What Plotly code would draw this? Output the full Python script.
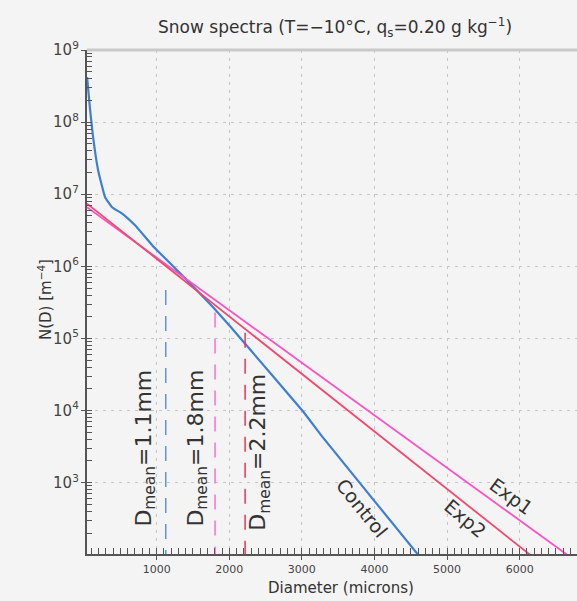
import math
import plotly.graph_objects as go

# ---- data ----
diam_control = [41, 83, 124, 193, 289, 386, 537, 702, 950, 1185, 1460, 1777, 2011, 2287, 3017, 3292, 4601, 4700]
n_control = [4.22e8, 1.47e8, 6.19e7, 2.15e7, 9.09e6, 6.6e6, 5.27e6, 3.71e6, 1.9e6, 1.1e6,
             5.8e5, 2.7e5, 1.47e5, 7.0e4, 9.7e3, 4.2e3, 100, 75]

diam_exp1 = [40, 1000, 2000, 3000, 4000, 5000, 6000, 6700]
n_exp1 = [6.6e6, 1.32e6, 2.47e5, 4.6e4, 8.6e3, 1.6e3, 300, 92.5]

diam_exp2 = [40, 1000, 2000, 3000, 4000, 5000, 6000, 6200]
n_exp2 = [7.4e6, 1.27e6, 2.02e5, 3.22e4, 5.13e3, 817, 130, 90]

dmean_diam = [1125, 1804, 2218]          # microns
dmean_top = [4.68e5, 2.29e5, 1.2e5]      # upper end of dashed markers
dmean_bottom = [100, 100, 100]
dmean_text = ["D<sub>mean</sub>=1.1mm", "D<sub>mean</sub>=1.8mm", "D<sub>mean</sub>=2.2mm"]
dmean_colors = ["#5c95d8", "#ff6ecb", "#e8345c"]

curve_names = ["Control", "Exp1", "Exp2"]
curve_colors = ["#3f7fcf", "#f754c4", "#ee4a72"]

FONT = "DejaVu Sans"
TXT = "#333333"

fig = go.Figure()

fig.add_trace(go.Scatter(x=diam_control, y=n_control, mode="lines", name=curve_names[0],
                         line=dict(color=curve_colors[0], width=2.2, shape="spline", smoothing=0.3)))
fig.add_trace(go.Scatter(x=diam_exp1, y=n_exp1, mode="lines", name=curve_names[1],
                         line=dict(color=curve_colors[1], width=1.8)))
fig.add_trace(go.Scatter(x=diam_exp2, y=n_exp2, mode="lines", name=curve_names[2],
                         line=dict(color=curve_colors[2], width=1.8)))

for d, top, bot, col in zip(dmean_diam, dmean_top, dmean_bottom, dmean_colors):
    fig.add_trace(go.Scatter(x=[d, d], y=[top, bot], mode="lines",
                             line=dict(color=col, width=1.5, dash="15px,11px")))

# D_mean labels (rotated)
dmean_label_x = [840, 1556, 2424]
dmean_label_y = [2970, 2970, 2610]
for x, y, t in zip(dmean_label_x, dmean_label_y, dmean_text):
    fig.add_annotation(x=x, y=math.log10(y), xref="x", yref="y", text=t, showarrow=False,
                       textangle=-90, font=dict(family=FONT, size=22, color=TXT))

# curve labels
curve_label_x = [3829, 5882, 5248]
curve_label_y = [450, 659, 327]
curve_label_angle = [51, 36, 40]
for x, y, t, a in zip(curve_label_x, curve_label_y, curve_names, curve_label_angle):
    fig.add_annotation(x=x, y=math.log10(y), xref="x", yref="y", text=t, showarrow=False,
                       textangle=a, font=dict(family=FONT, size=19, color=TXT))

# axis titles
fig.add_annotation(x=0.518, y=-0.0675, xref="paper", yref="paper", text="Diameter (microns)",
                   showarrow=False, yanchor="middle", font=dict(family=FONT, size=15, color=TXT))
fig.add_annotation(x=-0.110, y=0.504, xref="paper", yref="paper", text="N(D) [m<sup>−4</sup>]",
                   showarrow=False, textangle=-90, font=dict(family=FONT, size=15, color=TXT))

# top frame line
fig.add_shape(type="line", xref="paper", yref="paper", x0=0, x1=1, y0=1, y1=1,
              line=dict(color="#c9c9c9", width=3))

fig.update_layout(
    width=577, height=601,
    margin=dict(l=87, r=0, t=50, b=47),
    paper_bgcolor="#f4f4f4", plot_bgcolor="#f4f4f4",
    showlegend=False,
    title=dict(text="Snow spectra (T=−10°C, q<sub>s</sub>=0.20 g kg<sup>−1</sup>)",
               x=158 / 577, xref="container", xanchor="left",
               y=1 - 27 / 601, yref="container", yanchor="middle",
               font=dict(family=FONT, size=17, color=TXT)),
    font=dict(family=FONT, color=TXT),
)

fig.update_xaxes(range=[40, 6790], tick0=0, dtick=1000, showgrid=True,
                 gridcolor="#c6c6c6", griddash="3px,5px", gridwidth=1,
                 showline=True, linecolor="#555555", linewidth=1.5,
                 ticks="outside", ticklen=4, tickcolor="#555555",
                 tickfont=dict(family=FONT, size=11, color="#444444"),
                 minor=dict(ticks="inside", dtick=100, ticklen=6, tickcolor="#555555", showgrid=False),
                 zeroline=False)
fig.update_yaxes(type="log", range=[2.01, 9], dtick=1, exponentformat="power",
                 showgrid=True, gridcolor="#c6c6c6", griddash="3px,5px", gridwidth=1,
                 showline=True, linecolor="#555555", linewidth=1.5,
                 ticks="outside", ticklen=4, tickcolor="#555555",
                 tickfont=dict(family=FONT, size=12, color="#444444"),
                 minor=dict(ticks="inside", dtick="D1", ticklen=5, tickcolor="#555555", showgrid=False),
                 zeroline=False)

fig.write_html("out.html")
